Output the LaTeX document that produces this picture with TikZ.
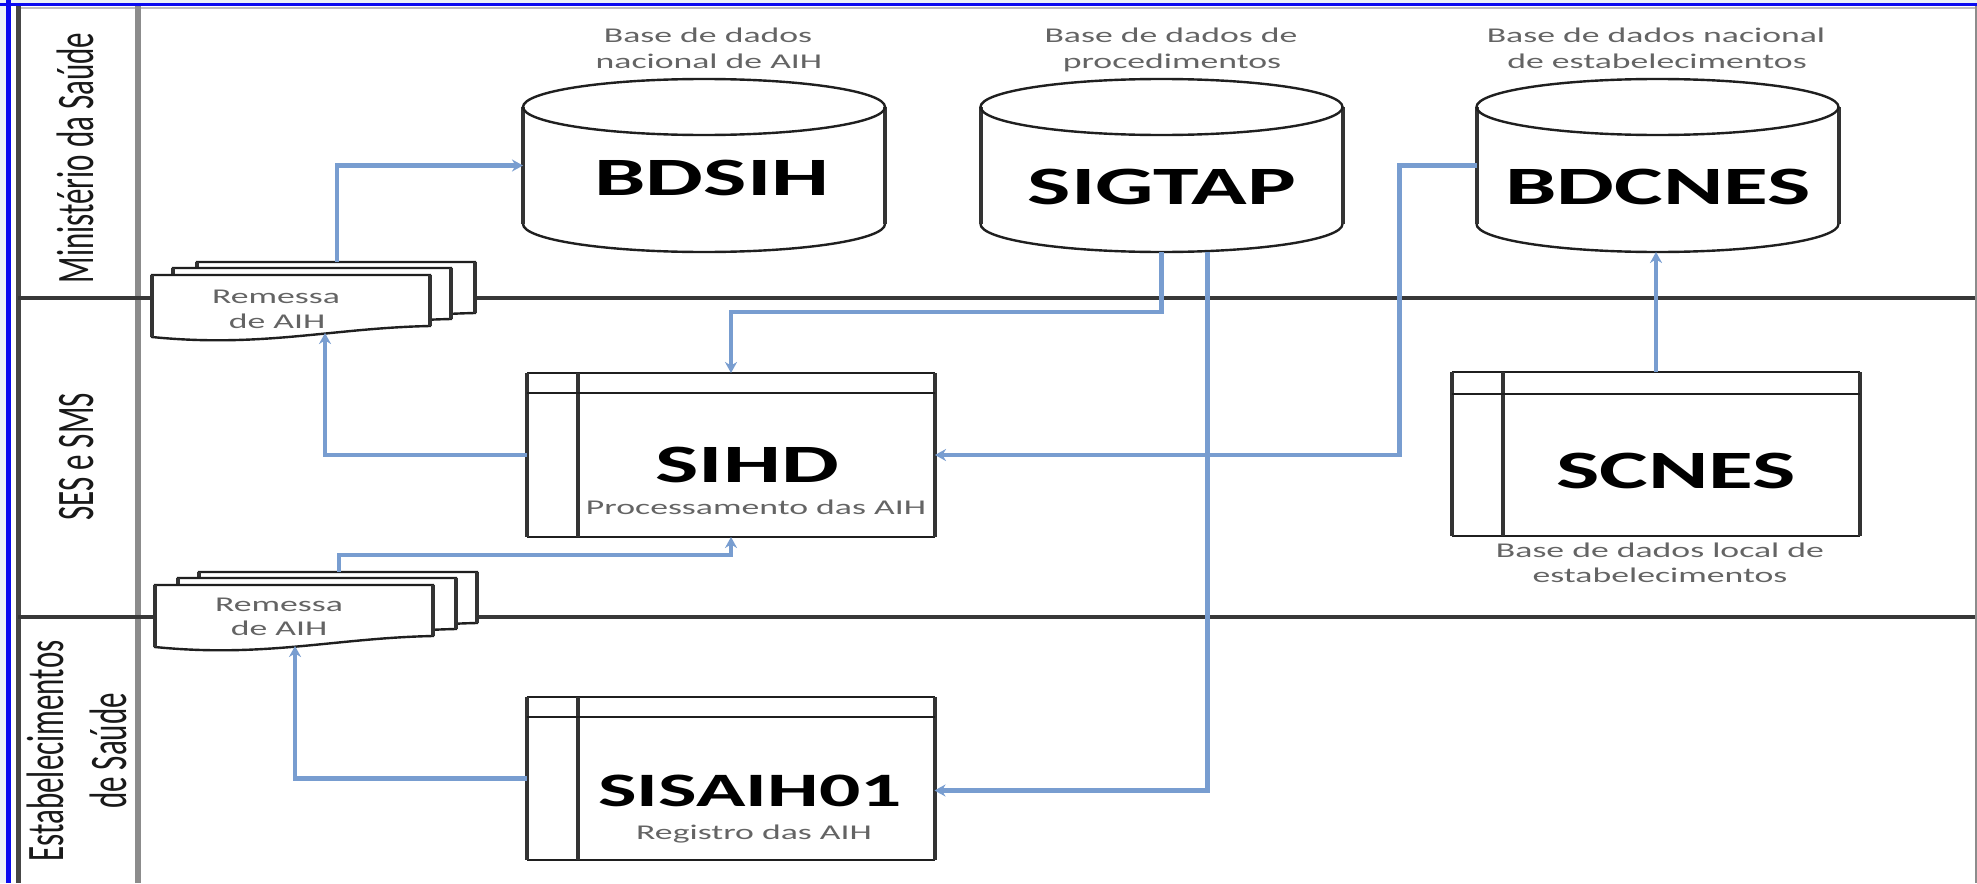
\documentclass[tikz,border=0pt]{standalone}
\usepackage{fontspec}
\setmainfont{Carlito}
\usetikzlibrary{arrows.meta}
\definecolor{connblue}{RGB}{120,157,208}
\definecolor{frameblue}{RGB}{10,10,240}
\definecolor{subgrey}{RGB}{100,100,100}
\definecolor{edgebg}{RGB}{236,242,248}
\newcommand\drawcyl[1]{%
  \fill[white] (#1-181,107) -- (#1-181,224)
     arc[start angle=180,end angle=0,x radius=181,y radius=28] -- (#1+181,107);
  \draw[outline] (#1-181,224) arc[start angle=180,end angle=0,x radius=181,y radius=28];
  \draw[vline] (#1-181,107) -- (#1-181,224);
  \draw[vline] (#1+181,107) -- (#1+181,224);
  \draw[outline] (#1,107) ellipse[x radius=181,y radius=28];}
\newcommand\drawdoc[2]{%
  \path[outline,fill=white] (#1,#2) -- (#1+278,#2) -- (#1+278,#2+51)
     .. controls (#1+180,#2+53) and (#1+110,#2+73) .. (#1,#2+62) -- cycle;
  \draw[vline] (#1,#2) -- (#1,#2+62);
  \draw[vline] (#1+278,#2) -- (#1+278,#2+51);}
\begin{document}
\begin{tikzpicture}[x=1pt,y=-1pt,
  stretched/.style={xscale=1.7,inner sep=0pt},
  bigtitle/.style={stretched,anchor=base,font=\fontsize{54}{60}\selectfont\bfseries,text=black},
  subtitle/.style={stretched,anchor=base,font=\fontsize{21}{25}\selectfont,text=subgrey},
  lanelabel/.style={xscale=1.7,rotate=90,inner sep=0pt,align=center,font=\fontsize{31}{37}\selectfont,text=black!90},
  outline/.style={draw=black!88,line width=2.4pt,line join=miter},
  vline/.style={draw=black!80,line width=4pt},
  innerline/.style={draw=black!88,line width=1.8pt},
  procbox/.style={fill=white,rectangle,inner sep=0pt,outer sep=0pt,minimum width=408pt,minimum height=164pt},
  cylbox/.style={rectangle,inner sep=0pt,outer sep=0pt,minimum width=362pt,minimum height=173pt},
  lanerule/.style={draw=black!78,line width=3.5pt},
  link/.style={draw=connblue,line width=4.2pt},
  linkarrow/.style={link,-{Stealth[length=11pt,width=12pt]}}]
% background and frame
\fill[white] (0,0) rectangle (1977,883);
\fill[edgebg] (0,0) rectangle (6,883);
\fill[edgebg] (0,0) rectangle (1977,3.5);
\useasboundingbox (0,0) rectangle (1977,883);
\draw[black!25,line width=1.5pt] (18,8) -- (1977,8);
\draw[draw=black!72,line width=5pt] (18,6) -- (18,883);
\draw[draw=black!45,line width=6pt] (138,6) -- (138,883);
\draw[lanerule] (18,298) -- (1977,298);
\draw[lanerule] (18,617) -- (1977,617);
\draw[black!45,line width=1.5pt] (1976,6) -- (1976,883);
\draw[frameblue,line width=3pt] (0,5) -- (1977,5);
\draw[frameblue,line width=5pt] (8,0) -- (8,883);
% lane labels
\node[lanelabel] (lane1) at (75,158) {Ministério da Saúde};
\node[lanelabel] (lane2) at (77,457) {SES e SMS};
\node[lanelabel] (lane3) at (77,751) {Estabelecimentos\\de Saúde};
% cylinders
\drawcyl{704}
\drawcyl{1161.5}
\drawcyl{1657.5}
\node[cylbox] (bdsih) at (704,165.5) {};
\node[cylbox] (sigtap) at (1161.5,165.5) {};
\node[cylbox] (bdcnes) at (1657.5,165.5) {};
\node[bigtitle] (bdsiht) at (712,195) {BDSIH};
\node[bigtitle] (sigtapt) at (1162,204) {SIGTAP};
\node[bigtitle] (bdcnest) at (1658,204) {BDCNES};
\node[subtitle] (bdsihs1) at (708,43) {Base de dados};
\node[subtitle] (bdsihs2) at (709,68) {nacional de AIH};
\node[subtitle] (sigtaps1) at (1171,43) {Base de dados de};
\node[subtitle] (sigtaps2) at (1172,68) {procedimentos};
\node[subtitle] (bdcness1) at (1656,43) {Base de dados nacional};
\node[subtitle] (bdcness2) at (1657,68) {de estabelecimentos};
% process boxes
\node[procbox] (sihd) at (731,455) {};
\node[procbox] (scnes) at (1656,454) {};
\node[procbox,minimum height=163pt] (sisaih) at (730.5,778.5) {};
\foreach \b/\dy in {sihd/20,scnes/22,sisaih/20}{
  \draw[outline] (\b.north west) -- (\b.north east);
  \draw[outline] (\b.south west) -- (\b.south east);
  \draw[vline] (\b.north west) -- (\b.south west);
  \draw[vline] (\b.north east) -- (\b.south east);
  \draw[vline] ([xshift=51pt]\b.north west) -- ([xshift=51pt]\b.south west);
  \draw[innerline] ([yshift=-\dy pt]\b.north west) -- ([yshift=-\dy pt]\b.north east);
}
\node[bigtitle] (sihdt) at (747,482) {SIHD};
\node[subtitle] (sihds) at (756,514) {Processamento das AIH};
\node[bigtitle] (scnest) at (1676,488) {SCNES};
\node[subtitle] (scness1) at (1660,557) {Base de dados local de};
\node[subtitle] (scness2) at (1660,582) {estabelecimentos};
\node[bigtitle,font=\fontsize{48}{56}\selectfont\bfseries] (sisaiht) at (750,806) {SISAIH01};
\node[subtitle] (sisaihs) at (754,839) {Registro das AIH};
% document stacks
\drawdoc{197}{262}
\drawdoc{173}{268}
\drawdoc{152}{275}
\node[subtitle] (rem1a) at (276,303) {Remessa};
\node[subtitle] (rem1b) at (277,328) {de AIH};
\drawdoc{199}{572}
\drawdoc{178}{578}
\drawdoc{155}{585}
\node[subtitle] (rem2a) at (279,611) {Remessa};
\node[subtitle] (rem2b) at (279,635) {de AIH};
\coordinate (rem1top) at (337,262);
\coordinate (rem1bot) at (325,333);
\coordinate (rem2top) at (339,572);
\coordinate (rem2bot) at (295,646);
% connectors
\draw[linkarrow] (rem1top) |- (bdsih.west);
\draw[linkarrow] (sihd.west) -| (rem1bot);
\draw[linkarrow] (sigtap.south) -- ++(0,60) -| (sihd.north);
\draw[linkarrow] ([xshift=46pt]sigtap.south) |- ([yshift=-12pt]sisaih.east);
\draw[linkarrow] (bdcnes.west) -- ++(-77,0) |- (sihd.east);
\draw[linkarrow] (scnes.north) -- (scnes.north |- bdcnes.south);
\draw[linkarrow] (sisaih.west) -| (rem2bot);
\draw[linkarrow] (rem2top) -- ++(0,-17) -| (sihd.south);
\end{tikzpicture}
\end{document}
